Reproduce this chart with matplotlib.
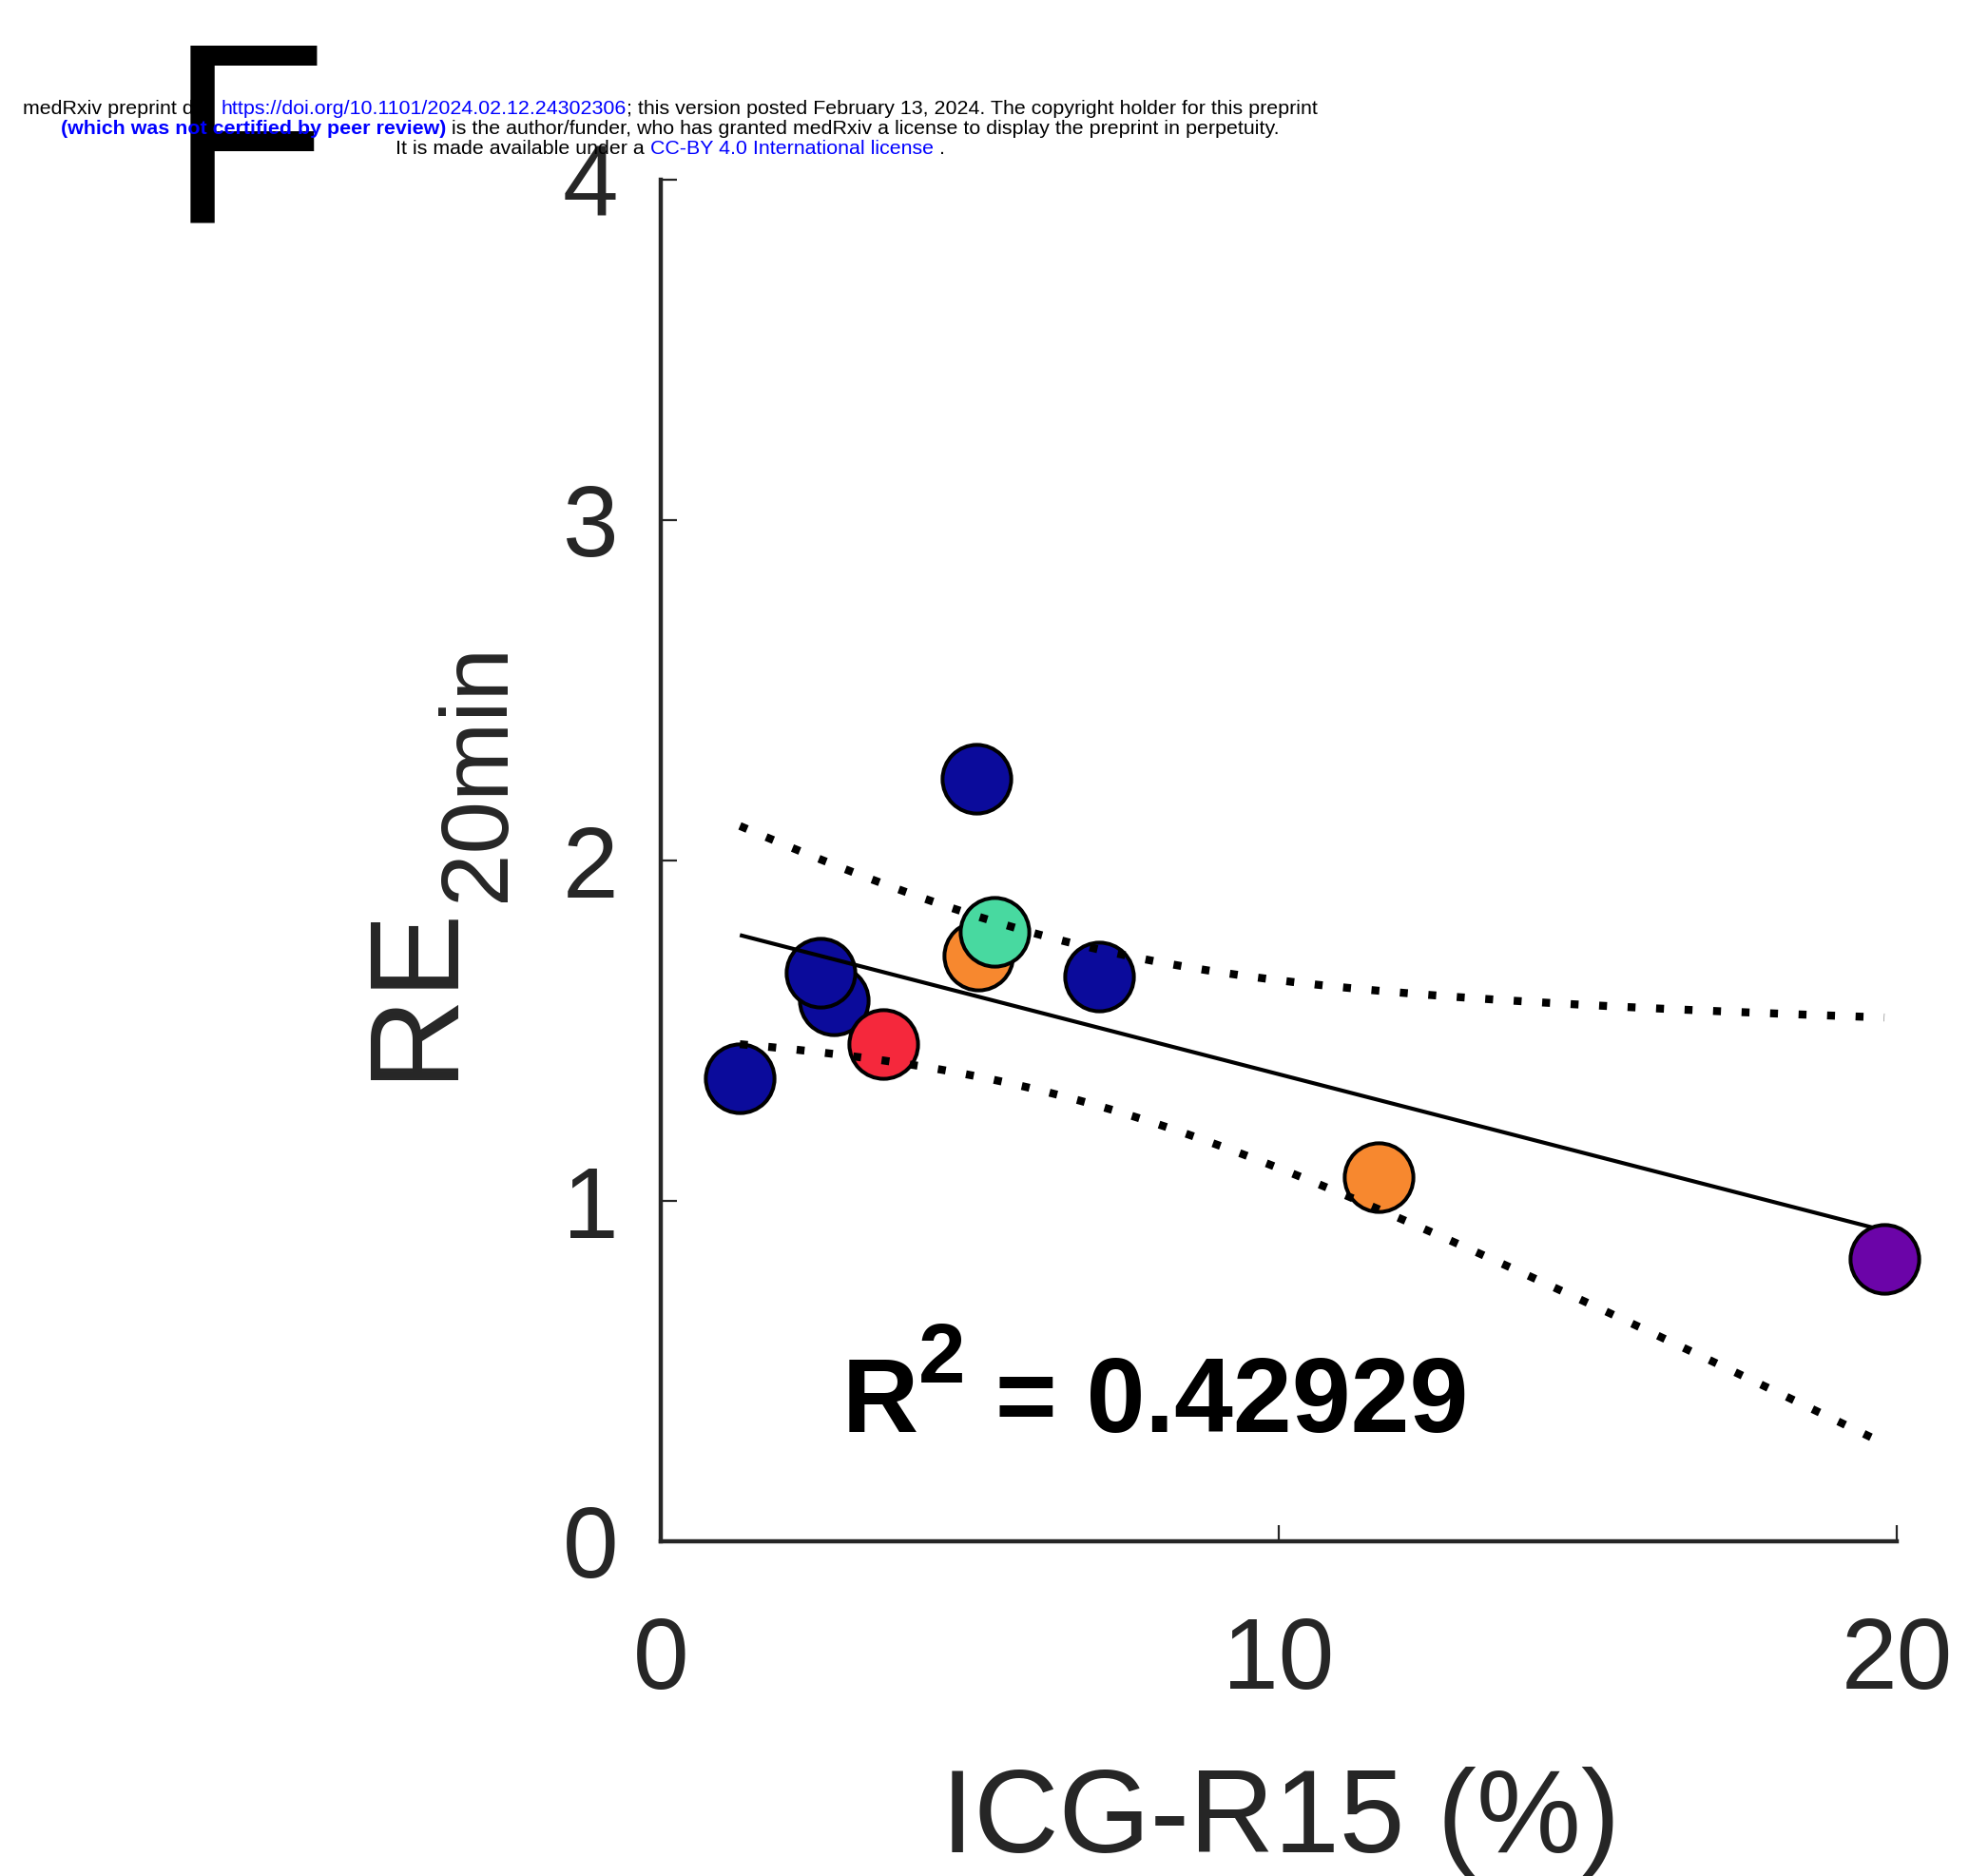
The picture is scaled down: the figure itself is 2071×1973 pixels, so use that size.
import numpy as np
import matplotlib
matplotlib.use("Agg")
import matplotlib.pyplot as plt
from matplotlib.transforms import IdentityTransform

# ---------------- data ----------------
icg_r15 = [1.28, 2.80, 2.59, 3.60, 5.10, 5.14, 5.40, 7.09, 11.62, 19.80]
re_20min = [1.36, 1.59, 1.67, 1.46, 2.24, 1.72, 1.79, 1.66, 1.07, 0.83]
point_colors = ["#0b0b9b", "#0b0b9b", "#0b0b9b", "#f5283c", "#0b0b9b",
                "#f7882f", "#48d9a0", "#0b0b9b", "#f7882f", "#6b04a8"]
x_ticks = [0, 10, 20]
y_ticks = [0, 1, 2, 3, 4]
r2_text = "0.42929"
t_crit_95 = 2.306   # Student t (two-sided 95 %, 8 d.o.f.)

header_lines = [
    [("medRxiv preprint doi: ", "black", "normal"),
     ("https://doi.org/10.1101/2024.02.12.24302306", "#0000ff", "normal"),
     ("; this version posted February 13, 2024. The copyright holder for this preprint", "black", "normal")],
    [("(which was not certified by peer review)", "#0000ff", "bold"),
     (" is the author/funder, who has granted medRxiv a license to display the preprint in perpetuity.", "black", "normal")],
    [("It is made available under a ", "black", "normal"),
     ("CC-BY 4.0 International license", "#0000ff", "normal"),
     (" .", "black", "normal")],
]

FONT = "Liberation Sans"
GRAY = "#262626"
plt.rcParams["font.family"] = [FONT, "DejaVu Sans"]

W, H, DPI = 2071, 1973, 100
fig = plt.figure(figsize=(W / DPI, H / DPI), dpi=DPI)
renderer = fig.canvas.get_renderer()
PIX = IdentityTransform()


def text_width(s, **kw):
    t1 = fig.text(0, 0, "|" + s + "|", transform=PIX, **kw)
    t2 = fig.text(0, 0, "||", transform=PIX, **kw)
    w = t1.get_window_extent(renderer).width - t2.get_window_extent(renderer).width
    t1.remove(); t2.remove()
    return w


def draw_runs(runs, x, y, center=True, zorder=3):
    """runs: list of (text, kwargs, dy_pixels)"""
    widths = [text_width(s, **kw) for s, kw, dy in runs]
    x0 = x - sum(widths) / 2 if center else x
    for (s, kw, dy), w in zip(runs, widths):
        fig.text(x0, y + dy, s, transform=PIX, ha="left", va="baseline",
                 zorder=zorder, **kw)
        x0 += w


# ---------------- axes ----------------
ax = fig.add_axes([695 / W, (H - 1621) / H, (1995 - 695) / W, (1621 - 189) / H])
ax.set_xlim(0, 20)
ax.set_ylim(0, 4)
ax.set_xticks(x_ticks)
ax.set_yticks(y_ticks)
for side in ("top", "right"):
    ax.spines[side].set_visible(False)
for side in ("left", "bottom"):
    ax.spines[side].set_linewidth(3.2)
    ax.spines[side].set_color(GRAY)
ax.tick_params(direction="in", length=12, width=1.6, color=GRAY,
               labelsize=76, labelcolor=GRAY)
ax.tick_params(axis="x", pad=56)
ax.tick_params(axis="y", pad=32)

xs = np.array(icg_r15)
ys = np.array(re_20min)

# scatter points
for i, (xv, yv, c) in enumerate(zip(xs, ys, point_colors)):
    z = 4.5 if i == len(xs) - 1 else 3
    ax.plot([xv], [yv], "o", ms=52, mfc=c, mec="black", mew=2.9,
            zorder=z, clip_on=False)

# linear fit and 95 % confidence band of the fit
slope, intercept = np.polyfit(xs, ys, 1)
n = len(xs)
resid = ys - (slope * xs + intercept)
s = np.sqrt(np.sum(resid ** 2) / (n - 2))
sxx = np.sum((xs - xs.mean()) ** 2)
xf = np.linspace(xs.min(), xs.max(), 200)
yf = slope * xf + intercept
half = t_crit_95 * s * np.sqrt(1 / n + (xf - xs.mean()) ** 2 / sxx)
ax.plot(xf, yf, color="black", lw=3.0, zorder=4, solid_capstyle="butt")
for band in (yf + half, yf - half):
    ax.plot(xf, band, color="black", lw=6.0, linestyle=(0, (1, 2.6)),
            dash_capstyle="butt", zorder=6)

# ---------------- texts ----------------
# R^2 annotation
draw_runs([("R", dict(fontsize=80, fontweight="bold", color="black"), 0),
           ("2", dict(fontsize=64, fontweight="bold", color="black"), 52),
           (" = " + r2_text, dict(fontsize=80, fontweight="bold", color="black"), 0)],
          886, H - 1506, center=False, zorder=7)

# x label
fig.text(1347, H - 1948, "ICG-R15 (%)", transform=PIX, ha="center",
         va="baseline", fontsize=89, color=GRAY)

# y label: RE with subscript 20min
re_w = text_width("RE", fontsize=96)
fig.text(472, 838, "RE", transform=PIX, rotation=90, rotation_mode="anchor",
         ha="left", va="baseline", fontsize=96, color=GRAY)
fig.text(530, 838 + re_w + 2, "20min", transform=PIX, rotation=90,
         rotation_mode="anchor", ha="left", va="baseline", fontsize=72, color=GRAY)

# panel letter
fig.text(178, H - 235, "F", transform=PIX, ha="left", va="baseline",
         fontsize=196, color="black", zorder=2)

# preprint header
baselines = [H - 120, H - 141, H - 162]
for k, (line, yb) in enumerate(zip(header_lines, baselines)):
    runs = [(t, dict(fontsize=15.4, color=c, fontweight=fw), 0) for t, c, fw in line]
    draw_runs(runs, 705, yb, center=True, zorder=1 if k == 0 else 3)

fig.savefig("out.png", dpi=DPI)
